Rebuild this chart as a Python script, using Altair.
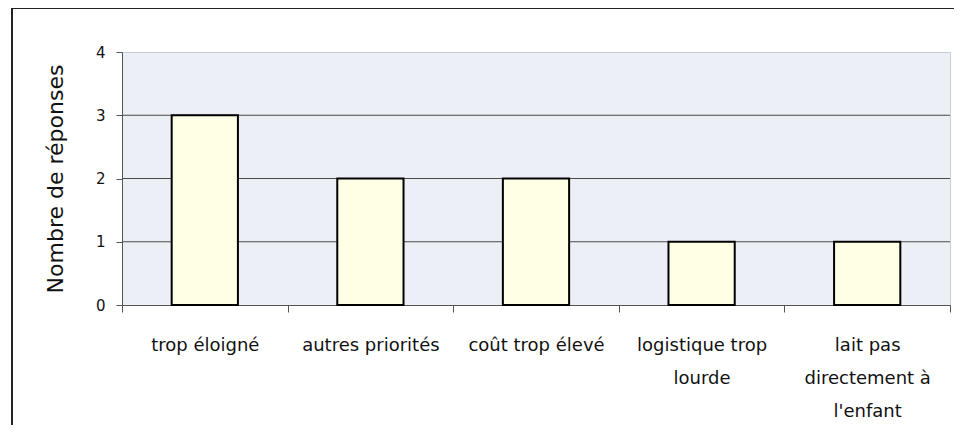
import altair as alt
import pandas as pd

categories = [
    "trop éloigné",
    "autres priorités",
    "coût trop élevé",
    "logistique trop|lourde",
    "lait pas|directement à|l'enfant",
]
values = [3, 2, 2, 1, 1]
y_ticks = [0, 1, 2, 3, 4]
grid_values = [1, 2, 3]

df = pd.DataFrame({"cat": categories, "n": values})

x = alt.X(
    "cat:N",
    sort=categories,
    title=None,
    scale=alt.Scale(paddingInner=0, paddingOuter=0),
    axis=alt.Axis(
        labelAngle=0,
        tickBand="extent",
        labelExpr="split(datum.label, '|')",
        labelFont="DejaVu Sans",
        labelFontSize=18,
        labelColor="#111111",
        labelLineHeight=33,
        labelPadding=24,
        tickSize=7,
        tickColor="#555555",
        domainColor="#555555",
        labelLimit=250,
        grid=False,
    ),
)

y_axis = alt.Axis(
    values=y_ticks,
    format="d",
    labelFont="DejaVu Sans",
    labelFontSize=15,
    labelColor="#111111",
    labelPadding=11,
    tickSize=6,
    tickColor="#555555",
    domainColor="#555555",
    titleFont="DejaVu Sans",
    titleFontSize=22,
    titleFontWeight="normal",
    titleColor="#111111",
    titlePadding=28,
    grid=False,
)
y_scale = alt.Scale(domain=[0, 4], nice=False)

grid = (
    alt.Chart(pd.DataFrame({"g": grid_values}))
    .mark_rule(color="#4a4a4a", strokeWidth=1)
    .encode(y=alt.Y("g:Q", title="Nombre de réponses", scale=y_scale, axis=y_axis))
)

bars = (
    alt.Chart(df)
    .mark_bar(
        width=alt.RelativeBandSize(0.4),
        fill="#FFFFE6",
        stroke="#000000",
        strokeWidth=2,
    )
    .encode(x=x, y=alt.Y("n:Q", title="Nombre de réponses", scale=y_scale, axis=y_axis))
)

frame = (
    alt.Chart(pd.DataFrame({"a": [0]}))
    .mark_rect(fill=None, stroke="#222222", strokeWidth=2, clip=False)
    .encode(
        x=alt.value(-110),
        x2=alt.value(845),
        y=alt.value(-44),
        y2=alt.value(420),
    )
)

chart = (
    alt.layer(grid, bars, frame)
    .properties(
        width=828,
        height=253,
        autosize=alt.AutoSizeParams(type="none"),
        padding={"left": 114, "top": 44, "right": 4, "bottom": 120},
        background="white",
    )
    .configure_view(fill="#ECEFF6", stroke="#C8CCD4", strokeWidth=1)
)

chart.save("out.html", embed_options={"renderer": "svg", "actions": False})
